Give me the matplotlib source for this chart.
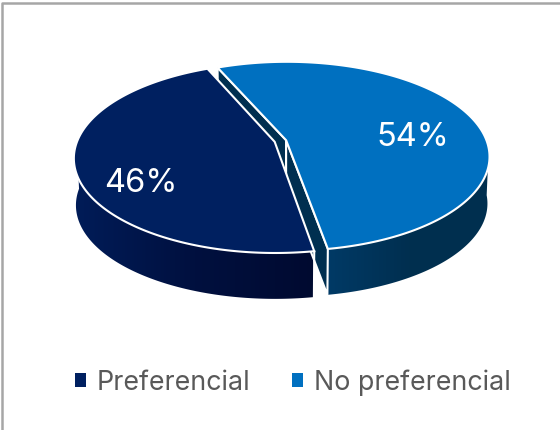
import numpy as np
import matplotlib
matplotlib.use("Agg")
import matplotlib.pyplot as plt
from matplotlib.colors import LinearSegmentedColormap
from matplotlib.patches import Patch, Polygon

categories = ["Preferencial", "No preferencial"]
values = [46, 54]
top_colors = ["#002060", "#0070C0"]
wall_colors = [["#001C58", "#00103F", "#000A30"], ["#013A66", "#002F50", "#00304F"]]
cut_color = "#002F50"

# picture is drawn in pixel coordinates, perspective disc
cx, cy = 282, 141
a, b, k = 199, 92, 0.17
depth, shrink = 47, 0.99
explode = 0.03
apex_shift = -0.008
start_angle = -23.8


def project(u, v, lower=False):
    s = 1 - k * v
    x = cx + a * u / s
    y = cy + b * v / s
    if lower:
        x = cx + (x - cx) * shrink
        y = cy + (y - cy) * shrink + depth
    return x, y


def arc(theta0, theta1, off, lower=False):
    t = np.radians(np.linspace(theta0, theta1, 200))
    return project(off[0] + np.sin(t), off[1] - np.cos(t), lower)


fig = plt.figure(figsize=(5.6, 4.3), dpi=100)
ax = fig.add_axes([0, 0, 1, 1])

sweeps = np.array(values) / sum(values) * 360
# blue runs clockwise from the start angle, dark takes the rest
blue_from, blue_to = start_angle, start_angle + sweeps[1]
dark_from, dark_to = blue_to, blue_to + sweeps[0]
mid_blue = np.radians((blue_from + blue_to) / 2)
off_blue = (explode * np.sin(mid_blue), -explode * np.cos(mid_blue))
off_dark = (-off_blue[0], -off_blue[1])


def draw_wall(theta0, theta1, off, colors):
    xt, yt = arc(theta0, theta1, off)
    xb, yb = arc(theta0, theta1, off, lower=True)
    pts = np.r_[np.c_[xt, yt], np.c_[xb, yb][::-1]]
    poly = Polygon(pts, closed=True, fc="none", ec="none")
    ax.add_patch(poly)
    cmap = LinearSegmentedColormap.from_list("wall", colors)
    im = ax.imshow(np.linspace(0, 1, 256).reshape(1, -1), cmap=cmap, aspect="auto",
                   extent=[pts[:, 0].min(), pts[:, 0].max(), pts[:, 1].max(), pts[:, 1].min()])
    im.set_clip_path(poly)


def draw_cut(theta, off):
    x0, y0 = project(off[0] + apex_shift, off[1])
    x1, y1 = arc(theta, theta, off)
    x1, y1 = x1[0], y1[0]
    x2, y2 = project(off[0] + apex_shift, off[1], lower=True)
    x3, y3 = arc(theta, theta, off, lower=True)
    x3, y3 = x3[0], y3[0]
    ax.fill([x0, x1, x3, x2], [y0, y1, y3, y2], fc=cut_color, ec="white", lw=1.5)


def draw_top(theta0, theta1, off, color):
    ax_, ay_ = project(off[0] + apex_shift, off[1])
    xs, ys = arc(theta0, theta1, off)
    ax.fill(np.r_[ax_, xs], np.r_[ay_, ys], fc=color, ec="white", lw=1.5, joinstyle="miter")


# blue first, dark sits over it
draw_wall(95, blue_to, off_blue, wall_colors[1])
draw_cut(blue_from, off_blue)
draw_cut(blue_to, off_blue)
draw_top(blue_from, blue_to, off_blue, top_colors[1])

draw_wall(dark_from, 270, off_dark, wall_colors[0])
xt, yt = arc(dark_from, dark_from, off_dark)
xb, yb = arc(dark_from, dark_from, off_dark, lower=True)
ax.plot([xt[0], xb[0]], [yt[0], yb[0]], color="white", lw=1.5)
draw_top(dark_from, dark_to, off_dark, top_colors[0])

font = ["Inter", "DejaVu Sans"]
ax.text(413, 137, f"{values[1]}%", color="white", fontsize=23.5, family=font, ha="center", va="center")
ax.text(141, 183, f"{values[0]}%", color="white", fontsize=23.5, family=font, ha="center", va="center")

handles = [Patch(fc=c, ec="none") for c in top_colors]
ax.legend(handles, categories, loc="center", bbox_to_anchor=(0.523, 0.111), ncol=2, frameon=False,
          prop={"family": font, "size": 19.3}, labelcolor="#595959", handlelength=0.41, handleheight=0.41,
          handletextpad=0.41, columnspacing=1.57)

ax.set_xlim(0, 560)
ax.set_ylim(430, 0)
ax.set_axis_off()

# thin frame round the chart
ax.plot([2, 2, 560], [430, 3, 3], color="#A6A6A6", lw=1.8)

fig.savefig("out.png", dpi=100)
